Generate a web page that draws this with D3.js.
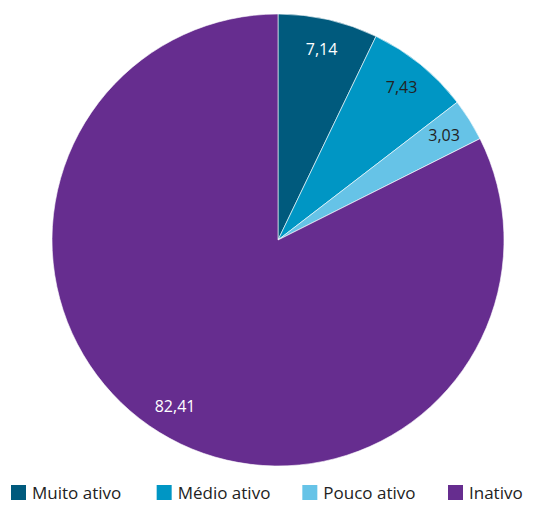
<!DOCTYPE html>
<html>
<head>
<meta charset="utf-8">
<script src="https://cdn.jsdelivr.net/npm/d3@7"></script>
<style>
  body { margin: 0; background: #fff; }
  svg { display: block; font-family: "Open Sans", sans-serif; }
</style>
</head>
<body>
<svg id="pieSvg" width="548" height="506"></svg>
<script>
const categories = ["Muito ativo", "Médio ativo", "Pouco ativo", "Inativo"];
const values = [7.14, 7.43, 3.03, 82.41];
const labels = ["7,14", "7,43", "3,03", "82,41"];
const colors = ["#005a7d", "#0096c4", "#66c3e7", "#662d8f"];
const labelColors = ["#ffffff", "#222222", "#222222", "#ffffff"];

const data = categories.map((c, i) => ({ name: c, value: values[i], label: labels[i] }));

const svg = d3.select("#pieSvg");
const cx = 278, cy = 240, radius = 226;

const g = svg.append("g").attr("transform", `translate(${cx},${cy})`);

const pie = d3.pie().sort(null).value(d => d.value);
const arc = d3.arc().innerRadius(0).outerRadius(radius);
const labelArc = d3.arc().innerRadius(196).outerRadius(196);

const color = d3.scaleOrdinal().domain(categories).range(colors);

const arcs = pie(data);

g.selectAll(".slice")
    .data(arcs)
    .enter()
    .append("path")
    .attr("class", "slice")
    .attr("d", arc)
    .attr("fill", d => color(d.data.name))
    .attr("stroke", "#ffffff")
    .attr("stroke-width", 0.6);

g.selectAll(".lbl")
    .data(arcs)
    .enter()
    .append("text")
    .attr("class", "lbl")
    .attr("transform", d => {
        const [x, y] = labelArc.centroid(d);
        return `translate(${x},${y})`;
    })
    .attr("text-anchor", "middle")
    .attr("dy", "0.35em")
    .attr("font-size", 16)
    .attr("fill", (d, i) => labelColors[i])
    .text(d => d.data.label);

// legend
const legendX = d3.scalePoint().domain(categories).range([11, 448]);
const legend = svg.append("g").attr("transform", "translate(0,485)");

const item = legend.selectAll(".item")
    .data(categories)
    .enter()
    .append("g")
    .attr("class", "item")
    .attr("transform", d => `translate(${legendX(d)},0)`);

item.append("rect")
    .attr("width", 15)
    .attr("height", 15)
    .attr("fill", d => color(d));

item.append("text")
    .attr("x", 21)
    .attr("y", 14)
    .attr("font-size", 17)
    .attr("fill", "#222")
    .text(d => d);
</script>
</body>
</html>
